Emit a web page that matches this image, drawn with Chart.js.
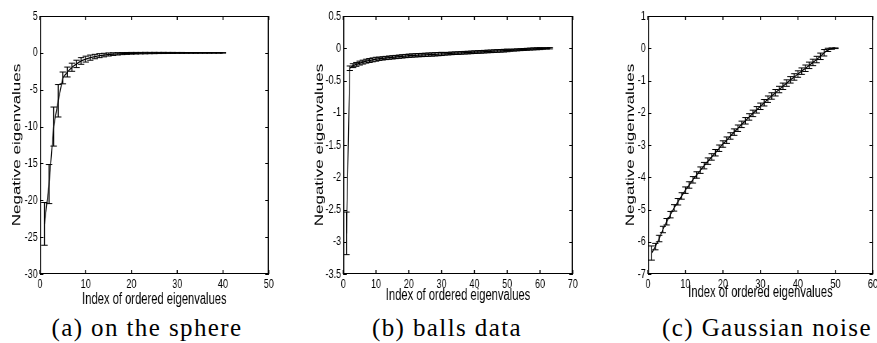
<!DOCTYPE html>
<html>
<head>
<meta charset="utf-8">
<script src="https://cdn.jsdelivr.net/npm/chart.js@4.4.1/dist/chart.umd.min.js"></script>
<style>
  html, body { margin: 0; padding: 0; background: #fff; width: 877px; height: 343px; overflow: hidden; position: relative; }
  .plot { position: absolute; top: 0; transform: scaleX(0.7); transform-origin: 0 0; }
  .cap { position: absolute; top: 315px; font-family: "Liberation Serif", "Times New Roman", serif; font-size: 25px; line-height: 25px; letter-spacing: 1.4px; white-space: nowrap; transform: translateX(-50%); color: #000; }
</style>
</head>
<body>
<div class="plot" style="left:0px"><canvas id="chartA" width="400" height="310"></canvas></div>
<div class="plot" style="left:290px"><canvas id="chartB" width="412" height="310"></canvas></div>
<div class="plot" style="left:580px"><canvas id="chartC" width="424" height="310"></canvas></div>
<div class="cap" style="left:147px">(a) on the sphere</div>
<div class="cap" style="left:447px">(b) balls data</div>
<div class="cap" style="left:767px">(c) Gaussian noise</div>
<script>
// (a) on the sphere
const sphereMean = [-23.2, -17.8, -10.0, -6.5, -3.4, -2.6, -1.95, -1.5, -1.1, -0.85,
  -0.65, -0.5, -0.38, -0.3, -0.22, -0.17, -0.13, -0.1, -0.08, -0.06,
  -0.05, -0.04, -0.03, -0.025, -0.02, -0.015, -0.012, -0.01, -0.008, -0.006,
  -0.005, -0.004, -0.003, -0.002, -0.002, -0.001, -0.001, 0, 0, 0];
const sphereErr = [2.9, 2.65, 2.65, 2.2, 0.8, 0.67, 0.55, 0.5, 0.45, 0.4,
  0.35, 0.3, 0.27, 0.24, 0.21, 0.18, 0.16, 0.14, 0.13, 0.12,
  0.11, 0.1, 0.1, 0.09, 0.09, 0.08, 0.08, 0.07, 0.07, 0.06,
  0.06, 0.05, 0.05, 0.05, 0.04, 0.04, 0.04, 0.03, 0.03, 0.03];
const xTicksA = [0, 10, 20, 30, 40, 50];
const yTicksA = [-30, -25, -20, -15, -10, -5, 0, 5];

// (b) balls data
const ballsMean = [-2.87, -0.31, -0.27, -0.25, -0.23, -0.215, -0.2, -0.19, -0.18, -0.17,
  -0.163, -0.157, -0.151, -0.146, -0.141, -0.136, -0.131, -0.126, -0.121, -0.116,
  -0.113, -0.110, -0.107, -0.105, -0.102, -0.099, -0.097, -0.094, -0.091, -0.088,
  -0.086, -0.083, -0.080, -0.077, -0.075, -0.072, -0.069, -0.067, -0.064, -0.061,
  -0.058, -0.056, -0.053, -0.050, -0.048, -0.045, -0.042, -0.040, -0.037, -0.034,
  -0.031, -0.028, -0.025, -0.022, -0.019, -0.016, -0.013, -0.010, -0.008, -0.006,
  -0.004, -0.002, 0];
const ballsErr = [0.33, 0.035, 0.03, 0.03, 0.03, 0.03, 0.03, 0.03, 0.03, 0.03,
  0.025, 0.025, 0.025, 0.025, 0.025, 0.025, 0.025, 0.025, 0.025, 0.025,
  0.025, 0.025, 0.025, 0.025, 0.025, 0.025, 0.025, 0.025, 0.025, 0.025,
  0.02, 0.02, 0.02, 0.02, 0.02, 0.02, 0.02, 0.02, 0.02, 0.02,
  0.02, 0.02, 0.02, 0.02, 0.02, 0.02, 0.02, 0.02, 0.02, 0.02,
  0.015, 0.015, 0.015, 0.015, 0.015, 0.015, 0.015, 0.015, 0.015, 0.015,
  0.01, 0.01, 0.01];
const xTicksB = [0, 10, 20, 30, 40, 50, 60, 70];
const yTicksB = [-3.5, -3, -2.5, -2, -1.5, -1, -0.5, 0, 0.5];

// (c) Gaussian noise
const noiseMean = [-6.35, -6.15, -5.9, -5.62, -5.38, -5.16, -4.95, -4.76, -4.58, -4.4,
  -4.24, -4.08, -3.93, -3.78, -3.64, -3.5, -3.37, -3.24, -3.1, -2.97,
  -2.85, -2.72, -2.6, -2.48, -2.36, -2.25, -2.13, -2.02, -1.91, -1.8,
  -1.69, -1.58, -1.48, -1.38, -1.28, -1.18, -1.08, -0.98, -0.89, -0.8,
  -0.71, -0.62, -0.53, -0.44, -0.35, -0.25, -0.14, -0.05, -0.01, 0];
const noiseErr = [0.22, 0.1, 0.1, 0.1, 0.1, 0.1, 0.1, 0.1, 0.1, 0.1,
  0.1, 0.1, 0.1, 0.1, 0.1, 0.1, 0.1, 0.1, 0.1, 0.1,
  0.1, 0.1, 0.1, 0.1, 0.1, 0.1, 0.1, 0.1, 0.1, 0.1,
  0.1, 0.1, 0.1, 0.1, 0.1, 0.1, 0.1, 0.1, 0.1, 0.1,
  0.1, 0.1, 0.1, 0.1, 0.1, 0.1, 0.1, 0.05, 0.02, 0.01];
const xTicksC = [0, 10, 20, 30, 40, 50, 60];
const yTicksC = [-7, -6, -5, -4, -3, -2, -1, 0, 1];

const xTitle = 'Index of ordered eigenvalues';
const yTitle = 'Negative eigenvalues';

Chart.defaults.font.family = '"Liberation Sans", Arial, Helvetica, sans-serif';
Chart.defaults.color = '#000';

// MATLAB style box with inward ticks on all four sides
const boxTicks = {
  id: 'boxTicks',
  afterDraw(chart) {
    const { ctx, chartArea: a, scales: { x, y } } = chart;
    ctx.save();
    ctx.strokeStyle = '#000';
    ctx.lineWidth = 1;
    ctx.beginPath();
    ctx.moveTo(a.left, a.top + 0.5); ctx.lineTo(a.right, a.top + 0.5);
    ctx.moveTo(a.left, a.bottom - 0.5); ctx.lineTo(a.right, a.bottom - 0.5);
    y.ticks.forEach(t => {
      const py = Math.round(y.getPixelForValue(t.value)) + 0.5;
      ctx.moveTo(a.left, py); ctx.lineTo(a.left + 5, py);
      ctx.moveTo(a.right, py); ctx.lineTo(a.right - 5, py);
    });
    ctx.stroke();
    ctx.lineWidth = 1.5;
    ctx.beginPath();
    ctx.moveTo(a.left + 0.75, a.top); ctx.lineTo(a.left + 0.75, a.bottom);
    ctx.moveTo(a.right - 0.75, a.top); ctx.lineTo(a.right - 0.75, a.bottom);
    x.ticks.forEach(t => {
      const px = x.getPixelForValue(t.value);
      ctx.moveTo(px, a.bottom); ctx.lineTo(px, a.bottom - 4);
      ctx.moveTo(px, a.top); ctx.lineTo(px, a.top + 4);
    });
    ctx.stroke();
    ctx.restore();
  }
};

function makeChart(id, mean, err, xTicks, yTicks, box) {
  const line = mean.map((m, i) => ({ x: i + 1, y: m }));
  const whisk = [];
  const caps = [];
  mean.forEach((m, i) => {
    whisk.push({ x: i + 1, y: m - err[i] }, { x: i + 1, y: m + err[i] }, { x: i + 1, y: null });
    caps.push({ x: i + 1, y: m - err[i] }, { x: i + 1, y: m + err[i] });
  });
  return new Chart(document.getElementById(id), {
    type: 'line',
    data: {
      datasets: [
        { type: 'line', data: whisk, borderColor: '#000', borderWidth: 1.4, pointRadius: 0, spanGaps: false },
        { type: 'scatter', data: caps, pointStyle: 'line', pointRadius: 4.5, borderColor: '#000', borderWidth: 1, pointBorderColor: '#000' },
        { type: 'line', data: line, borderColor: '#000', borderWidth: 1.3, pointRadius: 0, tension: 0 }
      ]
    },
    options: {
      responsive: false,
      animation: false,
      events: [],
      layout: { padding: { top: 16, right: box.padRight, left: 0, bottom: 0 } },
      plugins: { legend: { display: false }, tooltip: { enabled: false } },
      scales: {
        x: {
          type: 'linear',
          min: xTicks[0],
          max: xTicks[xTicks.length - 1],
          grid: { display: false, drawTicks: false },
          border: { display: false },
          ticks: { font: { size: 13 }, padding: 3, maxRotation: 0, autoSkip: false },
          title: { display: true, text: xTitle, font: { size: 16 }, padding: { top: 0, bottom: box.xTitlePad } },
          afterBuildTicks: s => { s.ticks = xTicks.map(v => ({ value: v })); },
          afterFit: s => { s.height = 36; s.paddingLeft = 0; s.paddingRight = 0; }
        },
        y: {
          type: 'linear',
          min: yTicks[0],
          max: yTicks[yTicks.length - 1],
          grid: { display: false, drawTicks: false },
          border: { display: false },
          ticks: { font: { size: 13 }, padding: 3, autoSkip: false, callback: v => String(v) },
          title: { display: true, text: yTitle, font: { size: 17 }, padding: { top: box.yTitlePad, bottom: 0 } },
          afterBuildTicks: s => { s.ticks = yTicks.map(v => ({ value: v })); },
          afterFit: s => { s.width = box.yWidth; s.paddingTop = 0; s.paddingBottom = 0; }
        }
      }
    },
    plugins: [boxTicks]
  });
}

makeChart('chartA', sphereMean, sphereErr, xTicksA, yTicksA, { yWidth: 57, padRight: 16, yTitlePad: 14, xTitlePad: 1 });
makeChart('chartB', ballsMean, ballsErr, xTicksB, yTicksB, { yWidth: 76, padRight: 8, yTitlePad: 32, xTitlePad: 5 });
makeChart('chartC', noiseMean, noiseErr, xTicksC, yTicksC, { yWidth: 97, padRight: 1, yTitlePad: 62, xTitlePad: 8 });
</script>
</body>
</html>
